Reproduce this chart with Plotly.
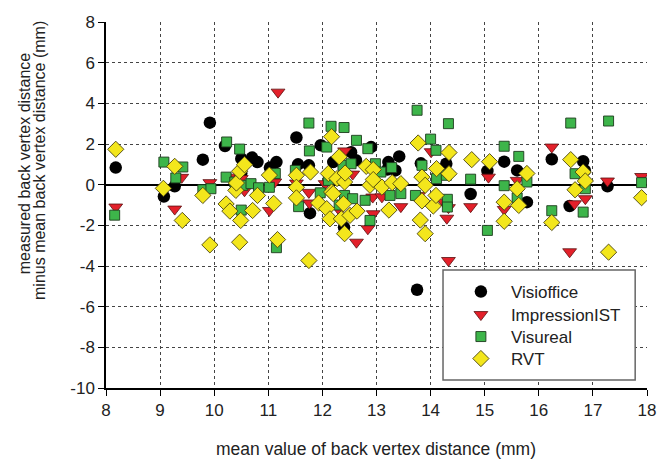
import plotly.graph_objects as go

# Mean back vertex distance (x, mm) and deviation from the mean (y, mm) per device
visioffice_x = [8.18, 9.07, 9.27, 9.92, 9.79, 10.2, 10.5, 10.7, 10.8, 10.5, 11.03, 11.15, 11.52,
                11.55, 11.75, 11.77, 11.97, 12.2, 12.62, 12.53, 12.9, 12.4, 13.22, 13.42, 13.2,
                13.35, 13.75, 13.82, 14.29, 14.74, 15.05, 15.36, 15.6, 15.78, 16.24, 16.57,
                16.82, 16.85, 17.27]
visioffice_y = [0.84, -0.58, -0.08, 3.05, 1.23, 1.9, 1.28, 1.33, 1.11, 0.56, 0.84, 1.11, 2.32,
                1.0, 0.95, -1.4, 1.94, 1.11, 1.2, 1.6, 1.85, -2.1, 1.11, 1.39, 0.74,
                0.7, -5.17, 1.05, 1.03, -0.46, 0.67, 1.13, 0.7, -0.86, 1.25, -1.05,
                1.15, 0.7, -0.08]

impression_x = [8.18, 9.27, 9.4, 9.92, 10.33, 10.5, 10.56, 11.02, 11.12, 11.18, 11.52, 11.75,
                11.76, 12.05, 12.32, 12.41, 12.56, 12.63, 12.84, 12.93, 13.1, 12.94, 13.45,
                13.78, 14.01, 14.24, 14.3, 14.33, 14.33, 14.74, 15.07, 15.36, 15.6, 16.24,
                16.57, 16.66, 16.86, 17.27, 17.9]
impression_y = [-1.1, -1.2, 0.36, 0.1, 0.37, 0.3, -0.3, -1.27, 0.13, 4.55, 0.08, -0.38,
                -0.9, 0.05, -1.27, 1.66, 0.52, -2.83, -2.17, -0.61, -0.6, -1.43, -1.08,
                -0.53, 1.62, -0.86, -1.65, -1.13, -3.73, -1.08, 0.37, -1.22, 0.21, 1.85,
                -3.3, -0.94, -0.69, 0.18, 0.4]

visureal_x = [8.16, 9.07, 9.42, 9.29, 9.79, 9.94, 10.23, 10.47, 10.22, 10.38, 10.53, 10.68,
              10.82, 11.02, 11.13, 10.5, 11.15, 11.5, 11.56, 11.75, 11.76, 11.96, 12.08,
              12.11, 12.16, 12.31, 12.37, 12.38, 12.4, 12.41, 12.53, 12.56, 12.63, 12.79,
              12.84, 12.88, 12.98, 13.08, 13.28, 13.25, 13.45, 13.72, 13.75, 13.84, 14.0,
              14.1, 14.11, 14.29, 14.33, 14.31, 14.31, 14.74, 15.05, 15.36, 15.36, 15.63,
              15.78, 15.6, 16.24, 16.59, 16.67, 16.82, 16.86, 17.29, 17.9]
visureal_y = [-1.5, 1.11, 0.87, 0.33, -0.25, -0.2, 2.1, 1.75, 0.37, 0.13, -0.03, 0.05,
              -0.15, -0.13, 0.55, -1.25, -3.1, 0.7, -1.08, 3.03, 1.66, -0.4, 1.85,
              0.21, 2.87, -1.0, 0.3, 0.95, 2.81, -0.53, 1.03, -0.69, 2.18, -0.77,
              1.77, -1.76, 1.03, 0.62, 0.84, -0.53, -0.44, -0.53, 3.66, 0.95, 2.24,
              1.69, 0.3, 0.46, 3.0, -0.72, -1.1, 0.27, -2.25, 1.89, -0.05, 1.39,
              0.13, -0.65, -1.28, 3.03, 0.54, -1.35, -0.2, 3.13, 0.1]

rvt_x = [8.18, 9.06, 9.27, 9.41, 9.79, 9.92, 10.22, 10.29, 10.4, 10.41, 10.47, 10.56, 10.49,
         10.47, 10.71, 10.8, 11.02, 11.1, 11.17, 11.52, 11.52, 11.52, 11.75, 11.78, 11.93,
         12.08, 12.11, 12.14, 12.17, 12.17, 12.2, 12.27, 12.31, 12.35, 12.41, 12.42, 12.39,
         12.41, 12.51, 12.64, 12.81, 12.88, 12.94, 12.94, 13.1, 13.23, 13.29, 13.45, 13.77,
         13.84, 13.84, 13.81, 13.9, 13.9, 14.05, 14.1, 14.11, 14.34, 14.34, 14.76, 15.09,
         15.36, 15.36, 15.6, 15.63, 15.78, 16.24, 16.59, 16.67, 16.82, 16.86, 17.29, 17.9]
rvt_y = [1.74, -0.18, 0.9, -1.76, -0.53, -2.96, -0.95, -1.3, -0.28, 0.08, 0.66, 0.98, -1.76,
         -2.83, -1.27, -0.53, 0.47, -0.92, -2.7, 0.46, -0.13, -0.65, -3.73, 0.62, -0.9,
         -1.18, 0.55, -1.68, 2.36, -0.36, -0.44, 0.3, 1.37, -1.68, 0.13, 0.57, -0.94,
         -2.41, -1.51, -1.3, 0.9, -0.03, 0.74, 0.25, -0.12, -1.25, 0.1, 0.05, 2.05,
         0.37, -0.8, -1.74, -2.41, -0.03, -1.05, -0.53, 0.79, 1.58, 0.54, 1.23, 1.13,
         -0.86, -1.8, -0.2, -1.02, 0.55, -1.86, 1.23, -0.25, 0.62, 0.18, -3.32, -0.64]

x_ticks = list(range(8, 19))
y_ticks = list(range(-10, 9, 2))

FONT = "Liberation Sans, Arial, sans-serif"
TEXT = "#222222"

# plot area in pixels
L, R, T, B = 106, 655, 22, 388
W, H = R - L, B - T


def px_x(p):
    return (p - L) / W


def px_y(p):
    return (B - p) / H


fig = go.Figure()
fig.add_trace(go.Scatter(
    x=visioffice_x, y=visioffice_y, mode="markers", name="Visioffice", legend="legend",
    marker=dict(symbol="circle", size=12.5, color="#000000", line=dict(width=0))))
fig.add_trace(go.Scatter(
    x=impression_x, y=impression_y, mode="markers", name="ImpressionIST", legend="legend2",
    marker=dict(symbol="triangle-down", size=12, color="#e3202a",
                line=dict(width=0.8, color="#5a1010"))))
fig.add_trace(go.Scatter(
    x=visureal_x, y=visureal_y, mode="markers", name="Visureal", legend="legend3",
    marker=dict(symbol="square", size=10, color="#3db54a",
                line=dict(width=0.9, color="#1d3b1d"))))
fig.add_trace(go.Scatter(
    x=rvt_x, y=rvt_y, mode="markers", name="RVT", legend="legend4",
    marker=dict(symbol="diamond", size=12.5, color="#f3e61c",
                line=dict(width=0.9, color="#4a4410"))))

grid = dict(showgrid=True, gridcolor="#444444", gridwidth=1.2, griddash="dot")

fig.update_xaxes(
    range=[8, 18], tickvals=x_ticks, ticktext=[str(v) for v in x_ticks],
    showline=True, linecolor="black", linewidth=1.5,
    ticks="outside", ticklen=6, tickwidth=1.3, tickcolor="black",
    tickfont=dict(family=FONT, size=17, color=TEXT),
    zeroline=False, **grid)
fig.update_yaxes(
    range=[-10, 8], tickvals=y_ticks, ticktext=[str(v) for v in y_ticks],
    showline=True, linecolor="black", linewidth=1.5,
    ticks="outside", ticklen=6, tickwidth=1.3, tickcolor="black",
    tickfont=dict(family=FONT, size=17, color=TEXT),
    zeroline=True, zerolinecolor="black", zerolinewidth=1.6, **grid)

# Legend frame
fig.add_shape(type="rect", xref="paper", yref="paper",
              x0=px_x(448), x1=px_x(643), y0=px_y(380), y1=px_y(270),
              line=dict(color="#666666", width=1.5), fillcolor="white", layer="above")


def legend_row(y_center):
    return dict(x=px_x(456), y=px_y(y_center), xanchor="left", yanchor="middle",
                bgcolor="rgba(0,0,0,0)", borderwidth=0, itemwidth=50,
                font=dict(family=FONT, size=17, color=TEXT))


fig.update_layout(
    width=668, height=459,
    margin=dict(l=L, r=668 - R, t=T, b=459 - B),
    paper_bgcolor="white", plot_bgcolor="white",
    font=dict(family=FONT, color=TEXT),
    showlegend=True,
    legend=legend_row(292),
    legend2=legend_row(315),
    legend3=legend_row(337),
    legend4=legend_row(359),
    annotations=[
        dict(text="measured back vertex distance",
             xref="paper", yref="paper", x=px_x(23), y=px_y(163),
             xanchor="center", yanchor="middle", textangle=-90, showarrow=False,
             font=dict(family=FONT, size=16, color=TEXT)),
        dict(text="minus mean back vertex distance (mm)",
             xref="paper", yref="paper", x=px_x(38), y=px_y(160),
             xanchor="center", yanchor="middle", textangle=-90, showarrow=False,
             font=dict(family=FONT, size=16, color=TEXT)),
        dict(text="mean value of back vertex distance (mm)",
             xref="paper", yref="paper", x=px_x(380), y=px_y(449),
             xanchor="center", yanchor="middle", showarrow=False,
             font=dict(family=FONT, size=17.5, color=TEXT)),
    ],
)

fig.write_html("out.html")
